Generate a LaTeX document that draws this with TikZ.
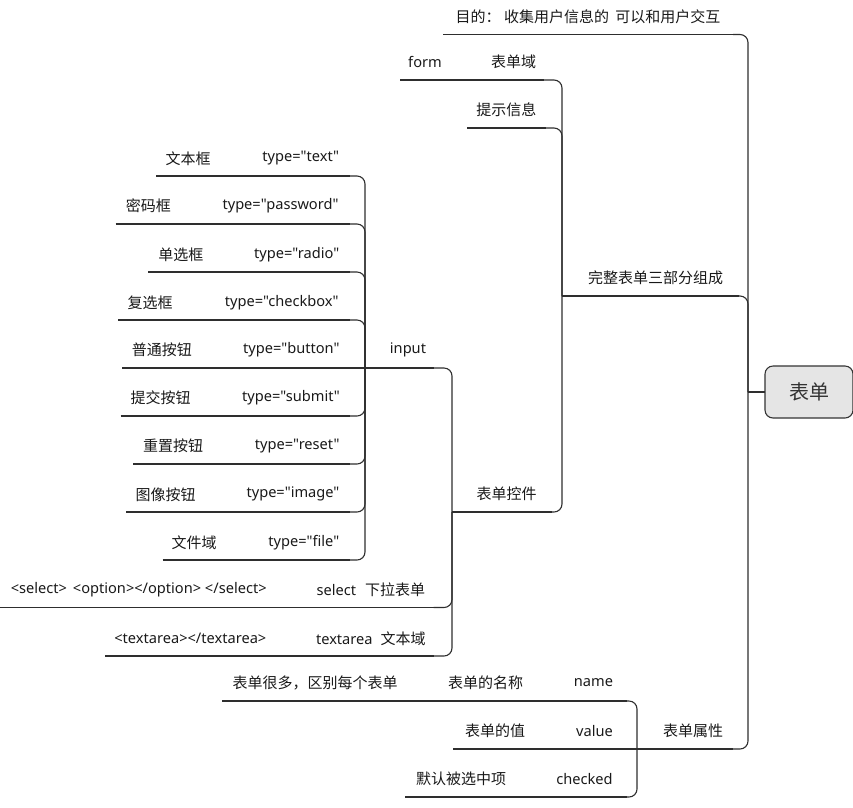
\documentclass[tikz,border=0pt]{standalone}
\usepackage{fontspec}
\setmainfont{Noto Sans}[Ligatures=TeXOff]
\newfontfamily\cjkf{Noto Sans CJK SC}
\newcommand\zh[1]{{\cjkf\fontsize{15}{18}\selectfont #1}}
\newcommand\mmnode[6]{\node[mmbox, minimum width=#5, minimum height={2*(#4-#3)}] (#1) at (#2,#3) {#6};}
\begin{document}
\begin{tikzpicture}[x=1pt,y=-1pt,
  ln/.style={draw=black!82, line width=1.1pt},
  edge/.style={ln, rounded corners=8pt},
  mmbox/.style={inner sep=0pt, outer sep=0pt, text=black!90, font=\fontsize{14.6}{17}\selectfont},
  rootbox/.style={draw=black!80, fill=black!10, rounded corners=8pt, line width=1.1pt,
    minimum width=88, minimum height=52, inner sep=0pt, outer sep=0pt, text=black!80}]
\useasboundingbox (0,0) rectangle (853,807);

% root
\node[rootbox] (R) at (809,392) {\cjkf\fontsize{20}{24}\selectfont 表单};

% level 1
\mmnode{A}{588}{17}{34.5}{290}{\zh{目的： 收集用户信息的\hspace{3pt} 可以和用户交互}}
\mmnode{B}{655.5}{278}{296}{166}{\zh{完整表单三部分组成}}
\mmnode{C}{693}{731}{749}{80}{\zh{表单属性}}

% children of B
\mmnode{B1}{513.5}{62}{80}{60}{\zh{表单域}}
\mmnode{F}{425}{62}{80}{50}{form}
\mmnode{B2}{506.3}{110}{128}{78.6}{\zh{提示信息}}
\mmnode{B3}{506.7}{494}{512}{90}{\zh{表单控件}}

% children of B3
\mmnode{I}{408}{350}{368}{52}{input}
\mmnode{S}{370.8}{590}{607.5}{125.6}{select\hspace{9pt}\zh{下拉表单}}
\mmnode{S1}{138.7}{590}{607.5}{277.4}{<select>\hspace{6pt}<option></option> </select>}
\mmnode{T}{370.8}{638.3}{656}{125.6}{textarea\hspace{8pt}\zh{文本域}}
\mmnode{T1}{190.3}{638.3}{656}{170.6}{<textarea></textarea>}

% children of input
\mmnode{t1}{300.8}{158.3}{176}{98.4}{type="text"}
\mmnode{c1}{188}{158.3}{176}{64}{\zh{文本框}}
\mmnode{t2}{280.5}{206}{224}{139}{type="password"}
\mmnode{c2}{148.3}{206}{224}{65.2}{\zh{密码框}}
\mmnode{t3}{296.7}{254.3}{272}{106.6}{type="radio"}
\mmnode{c3}{180.8}{254.3}{272}{65}{\zh{单选框}}
\mmnode{t4}{281.7}{302.3}{320}{136.6}{type="checkbox"}
\mmnode{c4}{150}{302.3}{320}{63.4}{\zh{复选框}}
\mmnode{t5}{291.3}{350}{368}{117.4}{type="button"}
\mmnode{c5}{161.8}{350}{368}{79.6}{\zh{普通按钮}}
\mmnode{t6}{291}{397.7}{416}{118}{type="submit"}
\mmnode{c6}{160.7}{397.7}{416}{80}{\zh{提交按钮}}
\mmnode{t7}{297.2}{446}{464}{105.6}{type="reset"}
\mmnode{c7}{173}{446}{464}{79.4}{\zh{重置按钮}}
\mmnode{t8}{293}{494.3}{512}{114}{type="image"}
\mmnode{c8}{165.7}{494.3}{512}{79.4}{\zh{图像按钮}}
\mmnode{t9}{303.8}{542.3}{560}{92.4}{type="file"}
\mmnode{c9}{194.2}{542.3}{560}{63}{\zh{文件域}}

% children of C
\mmnode{N}{593.5}{683}{701}{67}{name}
\mmnode{N1}{485.5}{683}{701}{95}{\zh{表单的名称}}
\mmnode{N2}{315}{683}{701}{186}{\zh{表单很多，区别每个表单}}
\mmnode{V}{594.5}{731}{749}{65}{value}
\mmnode{V1}{495}{731}{749}{84}{\zh{表单的值}}
\mmnode{K}{584.5}{779}{797}{85}{checked}
\mmnode{K1}{461}{779}{797}{112}{\zh{默认被选中项}}

% underlines
\foreach \n in {A,B,C,B1,F,B2,B3,I,S,S1,T,T1,t1,c1,t2,c2,t3,c3,t4,c4,t5,c5,t6,c6,t7,c7,t8,c8,t9,c9,N,N1,N2,V,V1,K,K1}
  \draw[ln] (\n.south west) -- (\n.south east);

% junctions
\coordinate (jR) at (748,392);
\coordinate (jB) at (562,296);
\coordinate (jB3) at (452,512);
\coordinate (jI) at (365,368);
\coordinate (jC) at (637,749);

% connectors
\draw[ln] (R.west) -- (jR);
\foreach \c in {A,B,C} \draw[edge] (jR) |- (\c.south east);

\draw[ln] (B.south west) -- (jB);
\foreach \c in {B1,B2,B3} \draw[edge] (jB) |- (\c.south east);
\draw[ln] (B1.south west) -- (F.south east);

\draw[ln] (B3.south west) -- (jB3);
\foreach \c in {I,S,T} \draw[edge] (jB3) |- (\c.south east);
\draw[ln] (S.south west) -- (S1.south east);
\draw[ln] (T.south west) -- (T1.south east);

\draw[ln] (I.south west) -- (jI);
\foreach \c in {t1,t2,t3,t4,t6,t7,t8,t9} \draw[edge] (jI) |- (\c.south east);
\draw[ln] (jI) -- (t5.south east);
\foreach \i in {1,...,9} \draw[ln] (t\i.south west) -- (c\i.south east);

\draw[ln] (C.south west) -- (jC);
\foreach \c in {N,K} \draw[edge] (jC) |- (\c.south east);
\draw[ln] (jC) -- (V.south east);
\draw[ln] (N.south west) -- (N1.south east);
\draw[ln] (N1.south west) -- (N2.south east);
\draw[ln] (V.south west) -- (V1.south east);
\draw[ln] (K.south west) -- (K1.south east);
\end{tikzpicture}
\end{document}
